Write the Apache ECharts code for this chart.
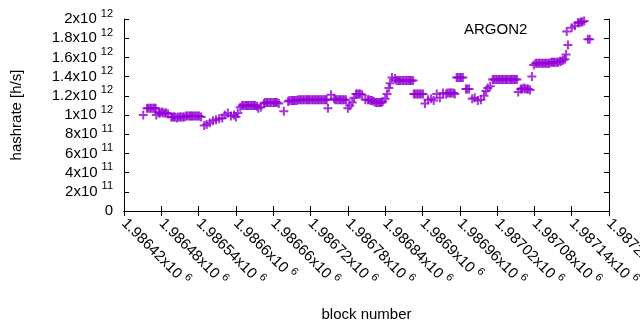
<!DOCTYPE html>
<html>
<head>
<meta charset="utf-8">
<script src="https://cdn.jsdelivr.net/npm/echarts@6/dist/echarts.min.js"></script>
<style>
  html, body { margin: 0; padding: 0; background: #fff; }
  #chart { width: 640px; height: 330px; }
</style>
</head>
<body>
<div id="chart"></div>
<script>
// block numbers of the points
var blocks = [
  1986451, 1986457, 1986462, 1986467, 1986471, 1986472, 1986476, 1986481, 1986486, 1986491,
  1986496, 1986500, 1986505, 1986510, 1986515, 1986520, 1986525, 1986529, 1986534, 1986539,
  1986544, 1986549, 1986553, 1986558, 1986563, 1986568, 1986573, 1986578, 1986582, 1986587,
  1986592, 1986597, 1986600, 1986603, 1986607, 1986610, 1986615, 1986619, 1986624, 1986629,
  1986634, 1986636, 1986640, 1986645, 1986650, 1986655, 1986660, 1986664, 1986669, 1986677,
  1986684, 1986689, 1986693, 1986698, 1986703, 1986708, 1986713, 1986717, 1986722, 1986727,
  1986732, 1986737, 1986742, 1986746, 1986748, 1986753, 1986758, 1986762, 1986767, 1986772,
  1986777, 1986780, 1986783, 1986787, 1986790, 1986793, 1986798, 1986803, 1986808, 1986812,
  1986817, 1986822, 1986827, 1986832, 1986836, 1986840, 1986843, 1986846, 1986848, 1986851,
  1986856, 1986861, 1986865, 1986870, 1986875, 1986880, 1986885, 1986886, 1986891, 1986896,
  1986901, 1986904, 1986909, 1986914, 1986918, 1986923, 1986928, 1986933, 1986938, 1986943,
  1986947, 1986952, 1986955, 1986960, 1986965, 1986970, 1986975, 1986980, 1986984, 1986989,
  1986994, 1986999, 1987002, 1987005, 1987009, 1987013, 1987018, 1987023, 1987028, 1987033,
  1987037, 1987042, 1987047, 1987052, 1987054, 1987058, 1987063, 1987068, 1987073, 1987076,
  1987079, 1987082, 1987087, 1987092, 1987097, 1987102, 1987107, 1987111, 1987116, 1987121,
  1987126, 1987129, 1987131, 1987132, 1987134, 1987140, 1987145, 1987150, 1987155, 1987160,
  1987166, 1987169,
  // the dense runs
  1986459, 1986464, 1986469, 1986478, 1986483, 1986488, 1986498, 1986502, 1986507, 1986512,
  1986517, 1986522, 1986527, 1986531, 1986536, 1986541, 1986612, 1986617, 1986621, 1986626,
  1986631, 1986647, 1986652, 1986657, 1986662, 1986666, 1986686, 1986691, 1986695, 1986700,
  1986705, 1986710, 1986715, 1986719, 1986724, 1986729, 1986734, 1986739, 1986744, 1986760,
  1986765, 1986769, 1986774, 1986795, 1986800, 1986814, 1986819, 1986825, 1986830, 1986834,
  1986858, 1986863, 1986868, 1986873, 1986878, 1986882, 1986888, 1986893, 1986898, 1986940,
  1986945, 1986950, 1986957, 1986962, 1986972, 1987015, 1987020, 1987025, 1987030, 1987035,
  1987040, 1987044, 1987049, 1987060, 1987065, 1987070, 1987084, 1987089, 1987094, 1987099,
  1987104, 1987109, 1987113, 1987118, 1987123, 1987152, 1987157
];
// hashrate, in units of 10^12 h/s
var hashrate = [
  1.00, 1.07, 1.07, 1.07, 1.07, 1.00, 1.02, 1.03, 1.02, 1.01,
  0.98, 0.98, 0.97, 0.98, 0.98, 0.99, 0.99, 0.99, 0.99, 0.99,
  0.98, 0.89, 0.90, 0.92, 0.94, 0.95, 0.96, 0.97, 1.00, 1.02,
  0.99, 1.00, 0.98, 1.02, 1.08, 1.10, 1.10, 1.10, 1.10, 1.10,
  1.09, 1.07, 1.08, 1.12, 1.13, 1.13, 1.13, 1.13, 1.12, 1.04,
  1.14, 1.15, 1.15, 1.15, 1.16, 1.16, 1.16, 1.16, 1.16, 1.16,
  1.16, 1.16, 1.16, 1.16, 1.07, 1.21, 1.17, 1.16, 1.16, 1.16,
  1.16, 1.07, 1.10, 1.13, 1.18, 1.22, 1.22, 1.21, 1.16, 1.16,
  1.15, 1.14, 1.13, 1.13, 1.14, 1.17, 1.22, 1.28, 1.33, 1.39,
  1.38, 1.36, 1.36, 1.36, 1.36, 1.36, 1.36, 1.22, 1.22, 1.22,
  1.22, 1.12, 1.16, 1.17, 1.15, 1.22, 1.18, 1.23, 1.22, 1.23,
  1.23, 1.22, 1.39, 1.39, 1.39, 1.27, 1.27, 1.17, 1.18, 1.15,
  1.16, 1.20, 1.25, 1.28, 1.30, 1.37, 1.37, 1.37, 1.37, 1.37,
  1.37, 1.37, 1.37, 1.37, 1.24, 1.27, 1.28, 1.27, 1.26, 1.40,
  1.52, 1.54, 1.54, 1.54, 1.54, 1.54, 1.55, 1.55, 1.55, 1.56,
  1.57, 1.58, 1.63, 1.87, 1.73, 1.91, 1.93, 1.96, 1.97, 1.98,
  1.79, 1.79,
  // the dense runs
  1.07, 1.07, 1.07, 1.02, 1.02, 1.02, 0.98, 0.98, 0.98, 0.98,
  0.98, 0.99, 0.99, 0.99, 0.99, 0.99, 1.10, 1.10, 1.10, 1.10,
  1.10, 1.13, 1.13, 1.13, 1.13, 1.13, 1.15, 1.15, 1.15, 1.16,
  1.16, 1.16, 1.16, 1.16, 1.16, 1.16, 1.16, 1.16, 1.16, 1.16,
  1.16, 1.16, 1.16, 1.22, 1.22, 1.16, 1.15, 1.13, 1.13, 1.13,
  1.36, 1.36, 1.36, 1.36, 1.36, 1.36, 1.22, 1.22, 1.22, 1.23,
  1.23, 1.23, 1.39, 1.39, 1.27, 1.37, 1.37, 1.37, 1.37, 1.37,
  1.37, 1.37, 1.37, 1.27, 1.27, 1.27, 1.54, 1.54, 1.54, 1.54,
  1.54, 1.55, 1.55, 1.55, 1.56, 1.96, 1.97
];

var font = 'Liberation Sans';
var purple = '#9400d3';

// gnuplot style "2x10^12" labels
function sci(v) {
  if (v === 0) return '{m|0}';
  var e = Math.floor(Math.log10(Math.abs(v)) + 1e-9);
  var m = parseFloat((v / Math.pow(10, e)).toFixed(6));
  return '{m|' + m + 'x10}{s|' + e + '}';
}
var rich = {
  m: { fontSize: 15, fontFamily: font, color: '#000' },
  s: { fontSize: 11, fontFamily: font, color: '#000', padding: [0, 0, 11, 4] }
};

var data = blocks.map(function (b, i) { return [b, hashrate[i] * 1e12]; });

var line = { show: true, lineStyle: { color: '#000', width: 1 } };
var tick = { show: true, inside: true, length: 5, lineStyle: { color: '#000', width: 1 } };

var chart = echarts.init(document.getElementById('chart'));
chart.setOption({
  animation: false,
  backgroundColor: '#fff',
  title: {
    text: 'ARGON2', left: 464, top: 22, padding: 0,
    textStyle: { fontSize: 15, fontWeight: 'normal', color: '#000', fontFamily: font }
  },
  grid: { left: 124, right: 31, top: 19, bottom: 119, containLabel: false, outerBoundsMode: 'none' },
  xAxis: [{
    type: 'value', min: 1986420, max: 1987200, interval: 60,
    name: 'block number', nameLocation: 'middle', nameGap: 96,
    nameTextStyle: { fontSize: 15, fontFamily: font, color: '#000' },
    axisLine: line, axisTick: tick, splitLine: { show: false },
    axisLabel: { rotate: -45, margin: 10, formatter: function (v) { return sci(v); }, rich: rich }
  }, {
    type: 'value', position: 'top', min: 1986420, max: 1987200, interval: 60,
    axisLine: line, axisTick: tick, splitLine: { show: false }, axisLabel: { show: false }
  }],
  yAxis: [{
    type: 'value', min: 0, max: 2e12, interval: 2e11,
    name: 'hashrate [h/s]', nameLocation: 'middle', nameGap: 100, nameRotate: 90,
    nameTextStyle: { fontSize: 15, fontFamily: font, color: '#000' },
    axisLine: line, axisTick: tick, splitLine: { show: false },
    axisLabel: { margin: 11, formatter: function (v) { return sci(v); }, rich: rich }
  }, {
    type: 'value', position: 'right', min: 0, max: 2e12, interval: 2e11,
    axisLine: line, axisTick: tick, splitLine: { show: false }, axisLabel: { show: false }
  }],
  series: [{
    type: 'scatter',
    data: data,
    symbol: 'path://M0,3.5L9,3.5L9,5.5L0,5.5Z M3.5,0L5.5,0L5.5,9L3.5,9Z',
    symbolSize: 9,
    itemStyle: { color: purple }
  }]
});
</script>
</body>
</html>
